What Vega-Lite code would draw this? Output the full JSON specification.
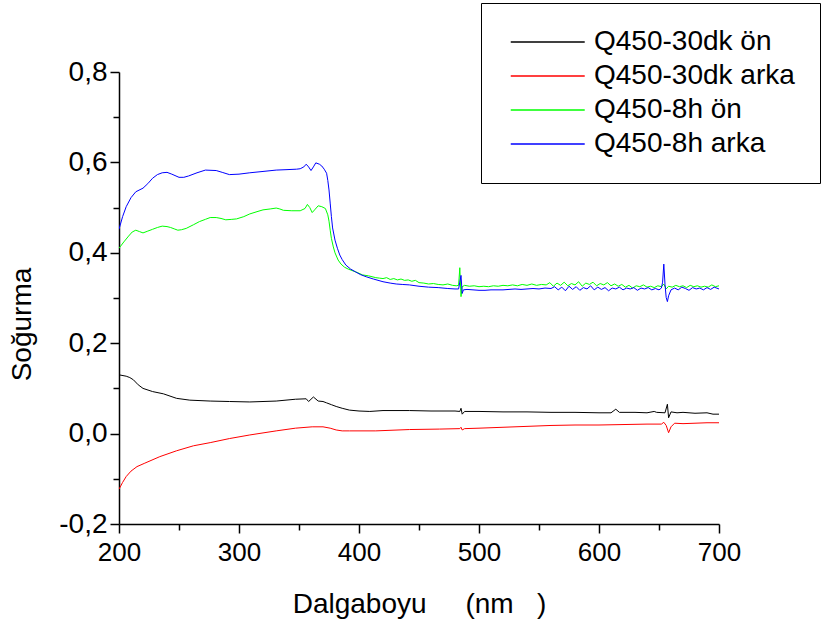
{
  "$schema": "https://vega.github.io/schema/vega-lite/v6.json",
  "width": 600,
  "height": 452,
  "autosize": {"type": "none"},
  "padding": {"left": 119, "top": 72, "right": 102, "bottom": 106},
  "background": "white",
  "config": {
    "view": {"stroke": null},
    "font": "Liberation Sans"
  },
  "datasets": {
    "s1": [
      {"x":200,"y":0.130},{"x":206,"y":0.127},{"x":209,"y":0.124},{"x":212,"y":0.119},{"x":216,"y":0.108},{"x":220,"y":0.100},{"x":228,"y":0.093},{"x":237,"y":0.088},{"x":248,"y":0.078},{"x":259,"y":0.074},{"x":276,"y":0.072},{"x":292,"y":0.071},{"x":309,"y":0.070},{"x":331,"y":0.072},{"x":347,"y":0.076},{"x":356,"y":0.077},{"x":358,"y":0.071},{"x":362,"y":0.081},{"x":366,"y":0.072},{"x":370,"y":0.071},{"x":373,"y":0.068},{"x":377,"y":0.064},{"x":381,"y":0.060},{"x":386,"y":0.056},{"x":392,"y":0.052},{"x":400,"y":0.050},{"x":409,"y":0.049},{"x":420,"y":0.051},{"x":442,"y":0.051},{"x":460,"y":0.050},{"x":480,"y":0.050},{"x":484,"y":0.049},{"x":485,"y":0.056},{"x":486,"y":0.043},{"x":488,"y":0.049},{"x":500,"y":0.049},{"x":520,"y":0.048},{"x":540,"y":0.048},{"x":560,"y":0.047},{"x":580,"y":0.047},{"x":600,"y":0.046},{"x":610,"y":0.046},{"x":614,"y":0.054},{"x":617,"y":0.047},{"x":630,"y":0.047},{"x":640,"y":0.046},{"x":646,"y":0.049},{"x":648,"y":0.047},{"x":655,"y":0.046},{"x":657,"y":0.065},{"x":658,"y":0.035},{"x":660,"y":0.048},{"x":665,"y":0.046},{"x":670,"y":0.047},{"x":680,"y":0.045},{"x":690,"y":0.046},{"x":695,"y":0.043},{"x":700,"y":0.043}
    ],
    "s2": [
      {"x":200,"y":-0.123},{"x":203,"y":-0.108},{"x":206,"y":-0.095},{"x":210,"y":-0.083},{"x":215,"y":-0.073},{"x":221,"y":-0.066},{"x":234,"y":-0.051},{"x":248,"y":-0.038},{"x":262,"y":-0.027},{"x":276,"y":-0.020},{"x":292,"y":-0.011},{"x":309,"y":-0.003},{"x":331,"y":0.006},{"x":347,"y":0.012},{"x":361,"y":0.015},{"x":370,"y":0.015},{"x":376,"y":0.012},{"x":381,"y":0.008},{"x":386,"y":0.006},{"x":392,"y":0.006},{"x":414,"y":0.006},{"x":442,"y":0.009},{"x":467,"y":0.010},{"x":484,"y":0.011},{"x":485,"y":0.014},{"x":486,"y":0.008},{"x":488,"y":0.011},{"x":500,"y":0.012},{"x":520,"y":0.014},{"x":540,"y":0.016},{"x":560,"y":0.018},{"x":580,"y":0.019},{"x":600,"y":0.019},{"x":620,"y":0.020},{"x":640,"y":0.021},{"x":652,"y":0.021},{"x":654,"y":0.025},{"x":656,"y":0.018},{"x":658,"y":0.002},{"x":660,"y":0.015},{"x":663,"y":0.023},{"x":670,"y":0.022},{"x":680,"y":0.023},{"x":690,"y":0.024},{"x":700,"y":0.024}
    ],
    "s3": [
      {"x":200,"y":0.410},{"x":204,"y":0.424},{"x":208,"y":0.437},{"x":211,"y":0.446},{"x":214,"y":0.450},{"x":217,"y":0.447},{"x":220,"y":0.444},{"x":224,"y":0.448},{"x":228,"y":0.452},{"x":232,"y":0.456},{"x":236,"y":0.459},{"x":240,"y":0.458},{"x":243,"y":0.456},{"x":246,"y":0.453},{"x":249,"y":0.450},{"x":252,"y":0.451},{"x":256,"y":0.454},{"x":262,"y":0.462},{"x":267,"y":0.469},{"x":272,"y":0.474},{"x":276,"y":0.478},{"x":281,"y":0.478},{"x":285,"y":0.476},{"x":289,"y":0.473},{"x":294,"y":0.474},{"x":298,"y":0.475},{"x":304,"y":0.480},{"x":309,"y":0.486},{"x":315,"y":0.491},{"x":320,"y":0.495},{"x":326,"y":0.497},{"x":331,"y":0.499},{"x":334,"y":0.497},{"x":337,"y":0.494},{"x":344,"y":0.493},{"x":351,"y":0.493},{"x":355,"y":0.498},{"x":357,"y":0.507},{"x":359,"y":0.500},{"x":361,"y":0.489},{"x":363,"y":0.495},{"x":366,"y":0.504},{"x":369,"y":0.502},{"x":372,"y":0.498},{"x":374,"y":0.484},{"x":375,"y":0.470},{"x":376,"y":0.450},{"x":377,"y":0.432},{"x":378.6,"y":0.413},{"x":380,"y":0.400},{"x":382.6,"y":0.384},{"x":385,"y":0.375},{"x":388,"y":0.368},{"x":391,"y":0.364},{"x":395,"y":0.360},{"x":399,"y":0.356},{"x":403,"y":0.351},{"x":408,"y":0.349},{"x":414,"y":0.345},{"x":417,"y":0.344},{"x":420,"y":0.343},{"x":423,"y":0.345},{"x":426,"y":0.341},{"x":429,"y":0.343},{"x":432,"y":0.340},{"x":435,"y":0.342},{"x":438,"y":0.339},{"x":441,"y":0.340},{"x":444,"y":0.337},{"x":447,"y":0.339},{"x":450,"y":0.334},{"x":454,"y":0.333},{"x":458,"y":0.331},{"x":462,"y":0.332},{"x":466,"y":0.330},{"x":470,"y":0.329},{"x":474,"y":0.331},{"x":478,"y":0.328},{"x":481,"y":0.327},{"x":483,"y":0.328},{"x":484,"y":0.367},{"x":485,"y":0.303},{"x":486,"y":0.325},{"x":488,"y":0.328},{"x":492,"y":0.326},{"x":496,"y":0.327},{"x":500,"y":0.325},{"x":504,"y":0.326},{"x":508,"y":0.325},{"x":512,"y":0.327},{"x":516,"y":0.326},{"x":520,"y":0.328},{"x":524,"y":0.327},{"x":528,"y":0.329},{"x":532,"y":0.327},{"x":536,"y":0.330},{"x":540,"y":0.328},{"x":544,"y":0.331},{"x":548,"y":0.328},{"x":552,"y":0.330},{"x":556,"y":0.329},{"x":559,"y":0.334},{"x":562,"y":0.326},{"x":565,"y":0.333},{"x":568,"y":0.328},{"x":571,"y":0.335},{"x":574,"y":0.327},{"x":577,"y":0.332},{"x":580,"y":0.329},{"x":583,"y":0.336},{"x":586,"y":0.326},{"x":589,"y":0.333},{"x":592,"y":0.330},{"x":595,"y":0.335},{"x":598,"y":0.327},{"x":601,"y":0.332},{"x":604,"y":0.329},{"x":607,"y":0.334},{"x":610,"y":0.327},{"x":613,"y":0.331},{"x":616,"y":0.326},{"x":619,"y":0.330},{"x":622,"y":0.324},{"x":625,"y":0.328},{"x":628,"y":0.322},{"x":631,"y":0.327},{"x":634,"y":0.325},{"x":637,"y":0.329},{"x":640,"y":0.324},{"x":643,"y":0.326},{"x":646,"y":0.323},{"x":649,"y":0.327},{"x":652,"y":0.325},{"x":654,"y":0.331},{"x":656,"y":0.320},{"x":658,"y":0.326},{"x":661,"y":0.324},{"x":664,"y":0.328},{"x":667,"y":0.325},{"x":670,"y":0.327},{"x":673,"y":0.323},{"x":676,"y":0.328},{"x":679,"y":0.325},{"x":682,"y":0.327},{"x":685,"y":0.324},{"x":688,"y":0.326},{"x":691,"y":0.324},{"x":694,"y":0.329},{"x":697,"y":0.325},{"x":700,"y":0.327}
    ],
    "s4": [
      {"x":200,"y":0.452},{"x":203,"y":0.480},{"x":206,"y":0.502},{"x":210,"y":0.522},{"x":214,"y":0.535},{"x":220,"y":0.543},{"x":224,"y":0.553},{"x":228,"y":0.565},{"x":232,"y":0.573},{"x":236,"y":0.577},{"x":240,"y":0.578},{"x":244,"y":0.574},{"x":250,"y":0.567},{"x":254,"y":0.567},{"x":258,"y":0.570},{"x":265,"y":0.577},{"x":272,"y":0.583},{"x":281,"y":0.582},{"x":286,"y":0.578},{"x":292,"y":0.573},{"x":300,"y":0.574},{"x":309,"y":0.577},{"x":320,"y":0.580},{"x":331,"y":0.583},{"x":340,"y":0.584},{"x":348,"y":0.585},{"x":351,"y":0.586},{"x":354,"y":0.590},{"x":356,"y":0.596},{"x":358,"y":0.590},{"x":360,"y":0.582},{"x":362,"y":0.590},{"x":364,"y":0.599},{"x":367,"y":0.596},{"x":369,"y":0.592},{"x":371,"y":0.585},{"x":373,"y":0.576},{"x":374,"y":0.560},{"x":375,"y":0.539},{"x":376,"y":0.510},{"x":377,"y":0.480},{"x":378,"y":0.455},{"x":380,"y":0.428},{"x":382,"y":0.410},{"x":384,"y":0.395},{"x":386,"y":0.385},{"x":389,"y":0.373},{"x":393,"y":0.364},{"x":397,"y":0.358},{"x":401,"y":0.352},{"x":406,"y":0.347},{"x":412,"y":0.342},{"x":420,"y":0.336},{"x":426,"y":0.333},{"x":431,"y":0.331},{"x":436,"y":0.330},{"x":442,"y":0.329},{"x":450,"y":0.326},{"x":458,"y":0.324},{"x":466,"y":0.323},{"x":474,"y":0.321},{"x":480,"y":0.320},{"x":483,"y":0.320},{"x":484,"y":0.335},{"x":485,"y":0.350},{"x":486,"y":0.310},{"x":487,"y":0.318},{"x":490,"y":0.319},{"x":495,"y":0.318},{"x":500,"y":0.317},{"x":505,"y":0.317},{"x":510,"y":0.318},{"x":515,"y":0.318},{"x":520,"y":0.318},{"x":525,"y":0.319},{"x":530,"y":0.320},{"x":535,"y":0.319},{"x":540,"y":0.320},{"x":545,"y":0.321},{"x":550,"y":0.320},{"x":555,"y":0.322},{"x":560,"y":0.321},{"x":563,"y":0.325},{"x":566,"y":0.318},{"x":569,"y":0.324},{"x":572,"y":0.316},{"x":575,"y":0.326},{"x":578,"y":0.319},{"x":581,"y":0.325},{"x":584,"y":0.317},{"x":587,"y":0.323},{"x":590,"y":0.320},{"x":593,"y":0.327},{"x":596,"y":0.318},{"x":599,"y":0.324},{"x":602,"y":0.319},{"x":605,"y":0.323},{"x":608,"y":0.316},{"x":611,"y":0.322},{"x":614,"y":0.320},{"x":617,"y":0.324},{"x":620,"y":0.318},{"x":623,"y":0.322},{"x":626,"y":0.320},{"x":629,"y":0.323},{"x":632,"y":0.317},{"x":635,"y":0.322},{"x":638,"y":0.320},{"x":641,"y":0.323},{"x":644,"y":0.318},{"x":647,"y":0.321},{"x":650,"y":0.318},{"x":652,"y":0.322},{"x":653,"y":0.335},{"x":654,"y":0.375},{"x":655,"y":0.330},{"x":656,"y":0.301},{"x":657,"y":0.292},{"x":658,"y":0.305},{"x":660,"y":0.318},{"x":663,"y":0.322},{"x":666,"y":0.318},{"x":669,"y":0.324},{"x":672,"y":0.321},{"x":675,"y":0.317},{"x":678,"y":0.323},{"x":681,"y":0.320},{"x":684,"y":0.322},{"x":687,"y":0.318},{"x":690,"y":0.323},{"x":693,"y":0.319},{"x":696,"y":0.324},{"x":700,"y":0.320}
    ]
  },
  "encoding": {
    "x": {
      "field": "x", "type": "quantitative",
      "scale": {"domain": [200, 700], "nice": false, "zero": false},
      "axis": {
        "title": "Dalgaboyu\u00a0\u00a0\u00a0\u00a0\u00a0(nm\u00a0\u00a0\u00a0)",
        "values": [200,250,300,350,400,450,500,550,600,650,700],
        "labelExpr": "datum.value % 100 == 0 ? datum.label : ''",
        "labelFlush": false,
        "grid": false,
        "domainColor": "black", "domainWidth": 1.5,
        "tickColor": "black", "tickWidth": 1.5,
        "tickSize": {"condition": {"test": "datum.value % 100 == 0", "value": 9}, "value": 6},
        "labelFont": "Liberation Sans", "labelFontSize": 26, "labelColor": "black",
        "labelPadding": 6,
        "titleFont": "Liberation Sans", "titleFontSize": 28, "titleFontWeight": "normal", "titleColor": "black",
        "titlePadding": 25
      }
    },
    "y": {
      "field": "y", "type": "quantitative",
      "scale": {"domain": [-0.2, 0.8], "nice": false, "zero": false},
      "axis": {
        "title": "Soğurma",
        "values": [-0.2,-0.1,0,0.1,0.2,0.3,0.4,0.5,0.6,0.7,0.8],
        "labelExpr": "abs(round(datum.value*10)) % 2 == 0 ? replace(replace(format(datum.value, '.1f'), '.', ','), '\u2212', '-') : ''",
        "labelFlush": false,
        "grid": false,
        "domainColor": "black", "domainWidth": 1.5,
        "tickColor": "black", "tickWidth": 1.5,
        "tickSize": {"condition": {"test": "abs(round(datum.value*10)) % 2 == 0", "value": 9}, "value": 6},
        "labelFont": "Liberation Sans", "labelFontSize": 28, "labelColor": "black",
        "labelPadding": 3,
        "titleFont": "Liberation Sans", "titleFontSize": 28, "titleFontWeight": "normal", "titleColor": "black",
        "titlePadding": 22,
        "titleY": 252
      }
    }
  },
  "layer": [
    {
      "data": {"name": "s1"},
      "mark": {"type": "line", "strokeWidth": 1, "clip": true},
      "encoding": {
        "color": {
          "datum": "Q450-30dk ön", "type": "nominal",
          "scale": {
            "domain": ["Q450-30dk ön", "Q450-30dk arka", "Q450-8h ön", "Q450-8h arka"],
            "range": ["#000000", "#ff0000", "#00ff00", "#0000ff"]
          },
          "legend": {
            "title": null,
            "orient": "none",
            "legendX": 362,
            "legendY": -69,
            "symbolType": "M-1,0H7",
            "symbolSize": 342,
            "symbolStrokeWidth": 1.5,
            "labelFont": "Liberation Sans",
            "labelFontSize": 28,
            "labelColor": "black",
            "labelOffset": 60,
            "rowPadding": 6,
            "padding": 25,
            "strokeColor": "black",
            "fillColor": "white",
            "labelLimit": 400
          }
        }
      }
    },
    {
      "data": {"name": "s2"},
      "mark": {"type": "line", "strokeWidth": 1, "clip": true},
      "encoding": {"color": {"datum": "Q450-30dk arka", "type": "nominal"}}
    },
    {
      "data": {"name": "s3"},
      "mark": {"type": "line", "strokeWidth": 1, "clip": true},
      "encoding": {"color": {"datum": "Q450-8h ön", "type": "nominal"}}
    },
    {
      "data": {"name": "s4"},
      "mark": {"type": "line", "strokeWidth": 1, "clip": true},
      "encoding": {"color": {"datum": "Q450-8h arka", "type": "nominal"}}
    }
  ]
}
